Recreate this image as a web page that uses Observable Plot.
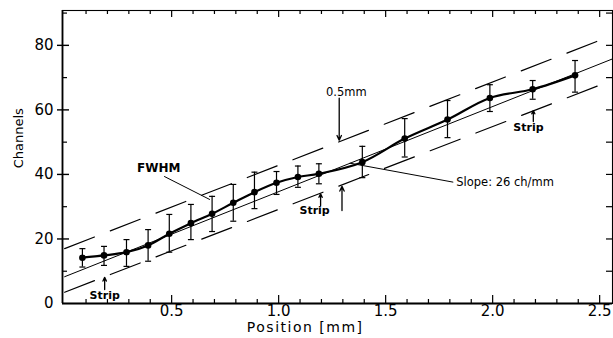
<!DOCTYPE html>
<html><head><meta charset="utf-8">
<script src="https://cdn.jsdelivr.net/npm/d3@7"></script>
<script src="https://cdn.jsdelivr.net/npm/@observablehq/plot@0.6"></script>
<style>html,body{margin:0;padding:0;background:#fff}#chart svg{display:block}</style>
</head><body><div id="chart"></div>
<script>
// ---- data ----
const positions = [0.083,0.184,0.289,0.39,0.489,0.59,0.689,0.788,0.887,0.99,1.09,1.188,1.391,1.589,1.789,1.987,2.187,2.385];
const channels  = [14.2,14.9,15.9,18.0,21.6,24.9,27.8,31.2,34.5,37.4,39.2,40.2,43.8,51.1,57.0,63.7,66.4,70.7];
const errHigh   = [17.0,17.7,19.8,22.9,27.6,30.7,33.2,36.9,40.7,40.9,42.6,43.3,48.7,57.3,62.9,67.8,69.1,75.3];
const errLow    = [11.3,11.8,11.5,13.1,15.9,19.8,22.3,25.5,29.4,33.8,36.0,37.1,39.0,45.4,51.4,59.5,63.3,65.5];

// fitted line (slope 26 ch/mm) and the two dashed band edges, at the plot's ends
const fitX      = [0, 2.56];
const fitCenter = [8.3, 75.8];
const fitUpper  = [17.0, 83.1];
const fitLower  = [3.5, 69.2];

// tick labels
const xMajor = [0.5, 1.0, 1.5, 2.0, 2.5];
const xMinor = [0.1,0.2,0.3,0.4,0.6,0.7,0.8,0.9,1.1,1.2,1.3,1.4,1.6,1.7,1.8,1.9,2.1,2.2,2.3,2.4];
const yMajor = [0, 20, 40, 60, 80];
const yMinor = [10, 30, 50, 70, 90];

// ---- layout ----
const W = 613, H = 338, mL = 62, mR = 1, mT = 10, mB = 35;
const pw = W - mL - mR, ph = H - mT - mB;
const font = "DejaVu Sans, sans-serif";

const pts = positions.map((x, i) => ({x, y: channels[i], hi: errHigh[i], lo: errLow[i]}));
const fit = fitX.map((x, i) => ({x, c: fitCenter[i], u: fitUpper[i], l: fitLower[i]}));

const stripLabels = [
  {x: 0.187, y: 2.6},
  {x: 1.168, y: 28.7},
  {x: 2.167, y: 54.4}
];
const leaders = [
  {x1: 0.465, y1: 39.4, x2: 0.679, y2: 32.2},
  {x1: 1.332, y1: 43.5, x2: 1.816, y2: 37.6}
];
const arrows = [
  {x1: 1.283, y1: 63.6, x2: 1.283, y2: 50.6},
  {x1: 1.296, y1: 28.8, x2: 1.296, y2: 36.3},
  {x1: 0.187, y1: 4.3,  x2: 0.187, y2: 8.1},
  {x1: 1.196, y1: 30.4, x2: 1.196, y2: 34.0},
  {x1: 2.19,  y1: 56.4, x2: 2.19,  y2: 59.8}
];

const plot = Plot.plot({
  width: W, height: H,
  marginLeft: mL, marginRight: mR, marginTop: mT, marginBottom: mB,
  x: {domain: [-0.01, 2.56]},
  y: {domain: [0, 90.8]},
  style: {fontFamily: font, color: "#000", background: "#fff"},
  marks: [
    Plot.axisX(xMajor, {tickSize: 0, tickPadding: 2, tickFormat: d => d.toFixed(1), fontSize: 15, label: null}),
    Plot.axisY(yMajor, {tickSize: 0, tickPadding: 9, fontSize: 15, label: null}),
    Plot.frame({strokeWidth: 1.1}),
    Plot.ruleX([-0.01], {strokeWidth: 1.8}),
    Plot.ruleY([0], {strokeWidth: 1.8}),
    // inner ticks
    Plot.tickX(xMinor, {x: d => d, insetTop: ph - 4, strokeWidth: 1.2}),
    Plot.tickX(xMajor, {x: d => d, insetTop: ph - 8, strokeWidth: 1.2}),
    Plot.tickX(xMinor, {x: d => d, insetBottom: ph - 4, strokeWidth: 1.2}),
    Plot.tickX(xMajor, {x: d => d, insetBottom: ph - 7, strokeWidth: 1.2}),
    Plot.tickY(yMinor, {y: d => d, insetRight: pw - 5, strokeWidth: 1.2}),
    Plot.tickY(yMajor.slice(1), {y: d => d, insetRight: pw - 12, dx: -5, strokeWidth: 1.4}),
    Plot.tickY([...yMajor.slice(1), ...yMinor], {y: d => d, insetLeft: pw - 6, strokeWidth: 1.2}),
    // fit and band
    Plot.line(fit, {x: "x", y: "c", strokeWidth: 1}),
    Plot.line(fit, {x: "x", y: "u", strokeWidth: 1.2, strokeDasharray: "32,17"}),
    Plot.line(fit, {x: "x", y: "l", strokeWidth: 1.2, strokeDasharray: "32,17"}),
    // error bars
    Plot.ruleX(pts, {x: "x", y1: "lo", y2: "hi", strokeWidth: 1.2}),
    Plot.link(pts, {x1: d => d.x - 0.014, x2: d => d.x + 0.014, y1: "hi", y2: "hi", strokeWidth: 1.2}),
    Plot.link(pts, {x1: d => d.x - 0.014, x2: d => d.x + 0.014, y1: "lo", y2: "lo", strokeWidth: 1.2}),
    // data curve
    Plot.line(pts, {x: "x", y: "y", curve: "catmull-rom", strokeWidth: 2.2}),
    Plot.dot(pts, {x: "x", y: "y", r: 3.3, fill: "#000"}),
    // annotations
    Plot.link(leaders, {x1: "x1", y1: "y1", x2: "x2", y2: "y2", strokeWidth: 1}),
    Plot.arrow(arrows, {x1: "x1", y1: "y1", x2: "x2", y2: "y2", strokeWidth: 1.3, headLength: 6, headAngle: 50}),
    Plot.text(["FWHM"], {x: 0.44, y: 41.9, fontSize: 12, fontWeight: "bold", fill: "#000"}),
    Plot.text(["0.5mm"], {x: 1.316, y: 65.3, fontSize: 11.5, fill: "#000"}),
    Plot.text(["Slope: 26 ch/mm"], {x: 1.83, y: 37.6, textAnchor: "start", fontSize: 11.5, fill: "#000"}),
    Plot.text(stripLabels, {x: "x", y: "y", text: () => "Strip", fontSize: 11, fontWeight: "bold", fill: "#000"}),
    // axis titles
    Plot.text(["Channels"], {frameAnchor: "left", dx: -44, y: 41.9, rotate: -90, fontSize: 13, fill: "#000"}),
    Plot.text(["Position [mm]"], {x: 1.124, frameAnchor: "bottom", dy: 24, lineAnchor: "middle", fontSize: 14, fill: "#000"})
  ]
});
document.getElementById("chart").appendChild(plot);
d3.select(plot).selectAll("text").filter(function(){ return this.textContent === "Position [mm]"; }).attr("letter-spacing", "1.5px");
</script>
</body></html>
